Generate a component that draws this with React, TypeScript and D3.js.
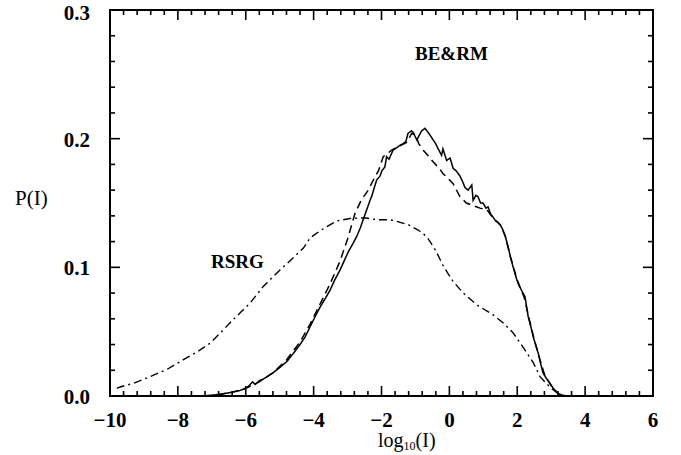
import React from "react";
import * as d3 from "d3";

const xTickValues = [-10, -8, -6, -4, -2, 0, 2, 4, 6];
const yTickValues = [0.0, 0.1, 0.2, 0.3];
const yTickLabels = ["0.0", "0.1", "0.2", "0.3"];

const beX = [-7.3,-7.0,-6.7,-6.4,-6.2,-6.0,-5.9,-5.8,-5.72,-5.6,-5.5,-5.37,-5.2,-5.0,-4.78,-4.6,-4.4,-4.25,-4.1,-3.95,-3.81,-3.65,-3.52,-3.38,-3.22,-3.1,-2.98,-2.85,-2.73,-2.62,-2.54,-2.42,-2.34,-2.29,-2.2,-2.14,-2.04,-1.99,-1.9,-1.85,-1.78,-1.66,-1.55,-1.45,-1.37,-1.28,-1.22,-1.12,-1.07,-0.96,-0.88,-0.82,-0.72,-0.63,-0.55,-0.48,-0.4,-0.33,-0.23,-0.19,-0.08,0.02,0.11,0.2,0.31,0.4,0.46,0.55,0.66,0.7,0.78,0.84,0.92,0.99,1.08,1.14,1.22,1.29,1.36,1.43,1.5,1.58,1.65,1.73,1.8,1.88,1.98,2.05,2.13,2.23,2.32,2.4,2.47,2.55,2.62,2.7,2.76,2.85,2.96,3.06,3.16,3.25,3.35,3.45];
const beY = [0.0,0.0005,0.0015,0.003,0.004,0.006,0.008,0.011,0.009,0.012,0.013,0.015,0.018,0.022,0.027,0.033,0.04,0.046,0.054,0.062,0.069,0.076,0.082,0.09,0.098,0.105,0.112,0.118,0.124,0.131,0.137,0.146,0.152,0.155,0.163,0.168,0.171,0.175,0.178,0.186,0.184,0.191,0.193,0.195,0.196,0.198,0.204,0.206,0.205,0.199,0.203,0.206,0.208,0.205,0.202,0.199,0.196,0.192,0.187,0.192,0.183,0.185,0.177,0.175,0.171,0.166,0.162,0.16,0.164,0.152,0.156,0.155,0.15,0.15,0.146,0.147,0.141,0.139,0.136,0.135,0.133,0.129,0.124,0.116,0.108,0.1,0.091,0.086,0.082,0.077,0.062,0.054,0.046,0.039,0.033,0.024,0.018,0.014,0.01,0.006,0.003,0.001,0.0005,0.0];

const rmX = [-7.2,-6.8,-6.4,-6.0,-5.6,-5.2,-4.8,-4.4,-4.1,-3.8,-3.5,-3.22,-3.0,-2.78,-2.6,-2.39,-2.2,-2.09,-1.95,-1.7,-1.5,-1.26,-1.11,-1.0,-0.9,-0.77,-0.6,-0.48,-0.3,-0.19,0.0,0.11,0.31,0.5,0.7,0.9,1.1,1.3,1.5,1.65,1.8,2.0,2.2,2.35,2.5,2.65,2.8,3.0,3.2,3.4];
const rmY = [0.0,0.001,0.003,0.006,0.011,0.018,0.028,0.042,0.056,0.072,0.088,0.105,0.122,0.142,0.152,0.16,0.17,0.175,0.186,0.191,0.194,0.197,0.204,0.203,0.196,0.191,0.186,0.182,0.177,0.173,0.168,0.165,0.155,0.15,0.148,0.146,0.145,0.138,0.133,0.124,0.108,0.09,0.077,0.06,0.044,0.03,0.017,0.008,0.002,0.0];

const rsrgX = [-9.8,-9.7,-9.3,-8.82,-8.3,-7.85,-7.45,-7.05,-6.75,-6.46,-6.15,-5.88,-5.49,-4.99,-4.7,-4.3,-4.1,-3.72,-3.32,-2.93,-2.5,-2.14,-1.75,-1.45,-1.2,-0.92,-0.67,-0.4,-0.2,0.11,0.41,0.8,1.29,1.58,1.88,2.17,2.47,2.67,2.96,3.2];
const rsrgY = [0.006,0.007,0.01,0.015,0.021,0.028,0.034,0.041,0.049,0.057,0.065,0.072,0.085,0.098,0.105,0.115,0.123,0.13,0.136,0.138,0.1385,0.137,0.137,0.135,0.133,0.129,0.124,0.113,0.102,0.089,0.08,0.071,0.063,0.057,0.049,0.038,0.026,0.015,0.007,0.002];

const W = 681, H = 455;
const L = 110, R = 653, T = 10, B = 396;

export default function App() {
  const x = d3.scaleLinear().domain([-10, 6]).range([L, R]);
  const y = d3.scaleLinear().domain([0, 0.3]).range([B, T]);
  const line = d3.line<[number, number]>().x(d => x(d[0])).y(d => y(d[1]));
  const zip = (a: number[], b: number[]) => a.map((v, i) => [v, b[i]] as [number, number]);

  const xMinor = d3.range(-10, 6.0001, 0.4).map(v => Math.round(v * 10) / 10);
  const yMinor = d3.range(0, 0.30001, 0.02).map(v => Math.round(v * 100) / 100);
  const isMajorX = (v: number) => Math.abs(v / 2 - Math.round(v / 2)) < 1e-6;
  const isMajorY = (v: number) => Math.abs(v * 10 - Math.round(v * 10)) < 1e-6;

  const font = "'Liberation Serif', 'Times New Roman', serif";

  return (
    <svg width={W} height={H} style={{ position: "absolute", left: 0, top: 0, background: "#fff" }}>
      <rect x={0} y={0} width={W} height={H} fill="#fff" />
      {xMinor.map((v, i) => {
        const len = isMajorX(v) ? 10 : 5;
        return (
          <g key={"xt" + i} stroke="#000" strokeWidth={1.6}>
            <line x1={x(v)} x2={x(v)} y1={B} y2={B - len} />
            <line x1={x(v)} x2={x(v)} y1={T} y2={T + len} />
          </g>
        );
      })}
      {yMinor.map((v, i) => {
        const len = isMajorY(v) ? 10 : 5;
        return (
          <g key={"yt" + i} stroke="#000" strokeWidth={1.6}>
            <line x1={L} x2={L + len} y1={y(v)} y2={y(v)} />
            <line x1={R} x2={R - len} y1={y(v)} y2={y(v)} />
          </g>
        );
      })}
      <rect x={L} y={T} width={R - L} height={B - T} fill="none" stroke="#000" strokeWidth={2} />
      <path d={line(zip(rsrgX, rsrgY)) || ""} fill="none" stroke="#000" strokeWidth={1.4} strokeDasharray="8,4,2,4" />
      <path d={line(zip(rmX, rmY)) || ""} fill="none" stroke="#000" strokeWidth={1.5} strokeDasharray="8,5" />
      <path d={line(zip(beX, beY)) || ""} fill="none" stroke="#000" strokeWidth={1.5} />
      {xTickValues.map((v, i) => (
        <text key={"xl" + i} x={x(v)} y={427} textAnchor="middle" fontFamily={font} fontWeight="bold" fontSize={21} fill="#000">
          {v < 0 ? "\u2212" + Math.abs(v) : String(v)}
        </text>
      ))}
      {yTickValues.map((v, i) => (
        <text key={"yl" + i} x={90} y={y(v) + (i === 3 ? 10 : 8)} textAnchor="end" fontFamily={font} fontWeight="bold" fontSize={21} fill="#000">
          {yTickLabels[i]}
        </text>
      ))}
      <text x={378} y={447} fontFamily={font} fontSize={20} fill="#000">
        log<tspan fontSize={12} dy={3}>10</tspan><tspan dy={-3}>(I)</tspan>
      </text>
      <text x={15} y={205} fontFamily={font} fontSize={21} fill="#000">P(I)</text>
      <text x={415} y={60} fontFamily={font} fontWeight="bold" fontSize={19} fill="#000">BE&amp;RM</text>
      <text x={211} y={268} fontFamily={font} fontWeight="bold" fontSize={19} fill="#000">RSRG</text>
    </svg>
  );
}
